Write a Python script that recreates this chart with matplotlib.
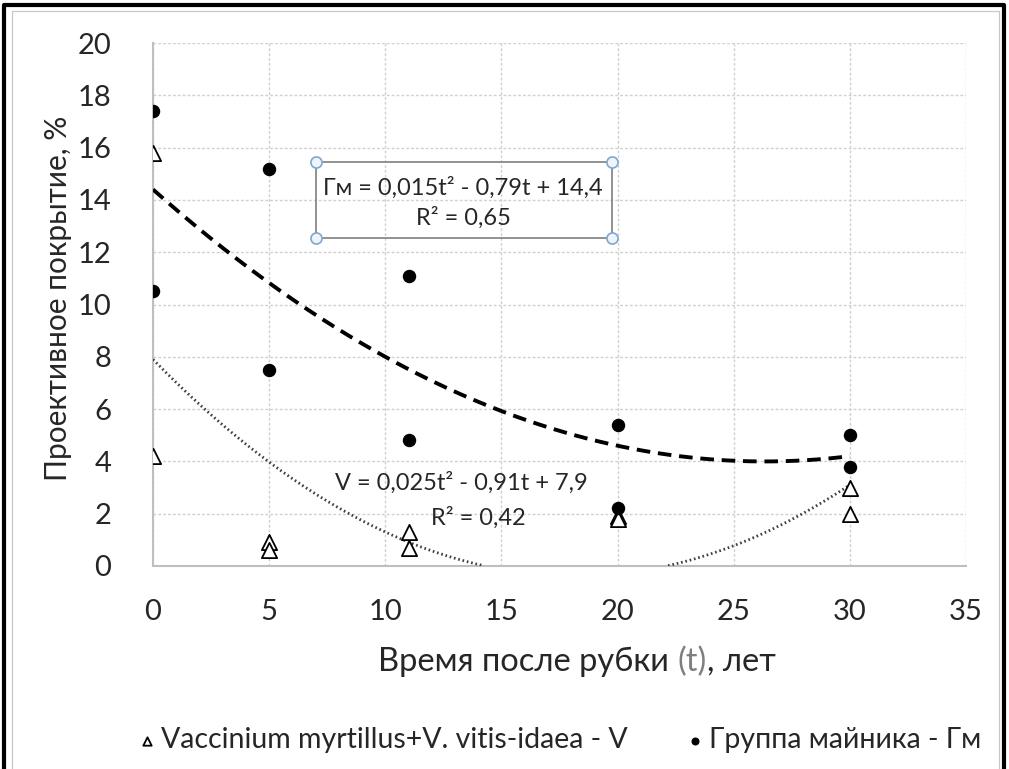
import matplotlib
matplotlib.use("Agg")
import matplotlib.pyplot as plt
from matplotlib.patches import Rectangle
from matplotlib.lines import Line2D
import numpy as np

plt.rcParams['font.family'] = ['Lato', 'DejaVu Sans']

# data
t_v = [0, 0, 5, 5, 11, 11, 20, 20, 30, 30]
v_vals = [15.8, 4.2, 0.9, 0.6, 1.3, 0.7, 1.9, 1.8, 3.0, 2.0]
t_g = [0, 0, 5, 5, 11, 11, 20, 20, 30, 30]
g_vals = [17.4, 10.5, 15.2, 7.5, 11.1, 4.8, 5.4, 2.2, 5.0, 3.8]

# trendline coefficients (a t^2 + b t + c) from the labels
coef_g = [0.015, -0.79, 14.4]
coef_v = [0.025, -0.91, 7.9]

xticks = [0, 5, 10, 15, 20, 25, 30, 35]
yticks = [0, 2, 4, 6, 8, 10, 12, 14, 16, 18, 20]

W, H = 1009, 769
fig = plt.figure(figsize=(W / 100, H / 100), dpi=100)

# outer frames: black on top/left/right, light gray inner frame
fig.add_artist(Line2D([4 / W, 4 / W, 1004 / W, 1004 / W], [0, 1 - 5 / H, 1 - 5 / H, 0],
                      transform=fig.transFigure, color='black', lw=3))
fig.add_artist(Line2D([12 / W, 12 / W, 999 / W, 999 / W], [0, 1 - 11 / H, 1 - 11 / H, 0],
                      transform=fig.transFigure, color='#c8c8c8', lw=0.9))

ax = fig.add_axes([153 / W, (H - 566) / H, (966 - 153) / W, (566 - 43) / H])

tt = np.linspace(0, 30, 300)
ax.plot(tt, np.polyval(coef_g, tt), color='black', lw=2.8, ls=(0, (3.5, 2)), zorder=3)
yv = np.polyval(coef_v, tt)
yv = np.where(yv < 0, np.nan, yv)
ax.plot(tt, yv, color='#404040', lw=2.0, ls=(0, (0.6, 1.0)), zorder=3)

ax.scatter(t_v, v_vals, marker='^', s=120, facecolors='white', edgecolors='black',
           linewidths=1.3, zorder=4, label='Vaccinium myrtillus+V. vitis-idaea - V')
ax.scatter(t_g, g_vals, marker='o', s=75, color='black', zorder=5,
           label='Группа майника - Гм')

ax.set_xlim(0, 35)
ax.set_ylim(0, 20)
ax.set_xticks(xticks)
ax.set_yticks(yticks)
ax.tick_params(axis='both', labelsize=21, length=0, colors='#262626')
ax.tick_params(axis='x', pad=24)
ax.tick_params(axis='y', pad=30)
ax.grid(True, color='#d0d0d0', lw=1.0, ls=(0, (2, 1.5)))
ax.set_axisbelow(True)
for s in ['top', 'right']:
    ax.spines[s].set_visible(False)
for s in ['left', 'bottom']:
    ax.spines[s].set_color('#bfbfbf')
    ax.spines[s].set_linewidth(1.5)

# equation label for Гм with box
ax.add_patch(Rectangle((7.0, 12.55), 12.75, 2.9, fill=False, ec='#7f7f7f', lw=1.2, zorder=6))
for cx, cy in [(7.0, 12.55), (19.75, 12.55), (7.0, 15.45), (19.75, 15.45)]:
    ax.plot(cx, cy, marker='o', ms=8, mfc='#eef4fb', mec='#7fa7cf', mew=1.2, zorder=7,
            clip_on=False)
ax.text(13.35, 14.45, 'Гм = 0,015t² - 0,79t + 14,4', ha='center', va='center',
        fontsize=17, color='#262626', zorder=8)
ax.text(13.35, 13.3, 'R² = 0,65', ha='center', va='center', fontsize=17,
        color='#262626', zorder=8)

ax.text(13.26, 3.2, 'V = 0,025t² - 0,91t + 7,9', ha='center', va='center',
        fontsize=17, color='#262626', zorder=8)
ax.text(14.0, 1.84, 'R² = 0,42', ha='center', va='center', fontsize=17,
        color='#262626', zorder=8)

# x axis title with grey "(t)"
parts = [('Время после рубки ', '#262626'), ('(t)', '#7f7f7f'), (', лет', '#262626')]
renderer = fig.canvas.get_renderer()
pieces = [fig.text(0, 1 - 662 / H, p, fontsize=23.5, color=c, va='center') for p, c in parts]
widths = [t.get_window_extent(renderer).width for t in pieces]
x0 = 577 - sum(widths) / 2
for t, w in zip(pieces, widths):
    t.set_x(x0 / W)
    x0 += w

fig.text(58 / W, 1 - 298 / H, 'Проективное покрытие, %', ha='center', va='center',
         rotation=90, fontsize=21.5, color='#262626')

fig.legend(loc='center', bbox_to_anchor=(559 / W, 1 - 740 / H), ncol=2, frameon=False,
           fontsize=20.5, handletextpad=0.15, columnspacing=2.0, markerscale=0.55,
           handlelength=0.7, labelcolor='#262626')

fig.savefig('out.png', dpi=100)
